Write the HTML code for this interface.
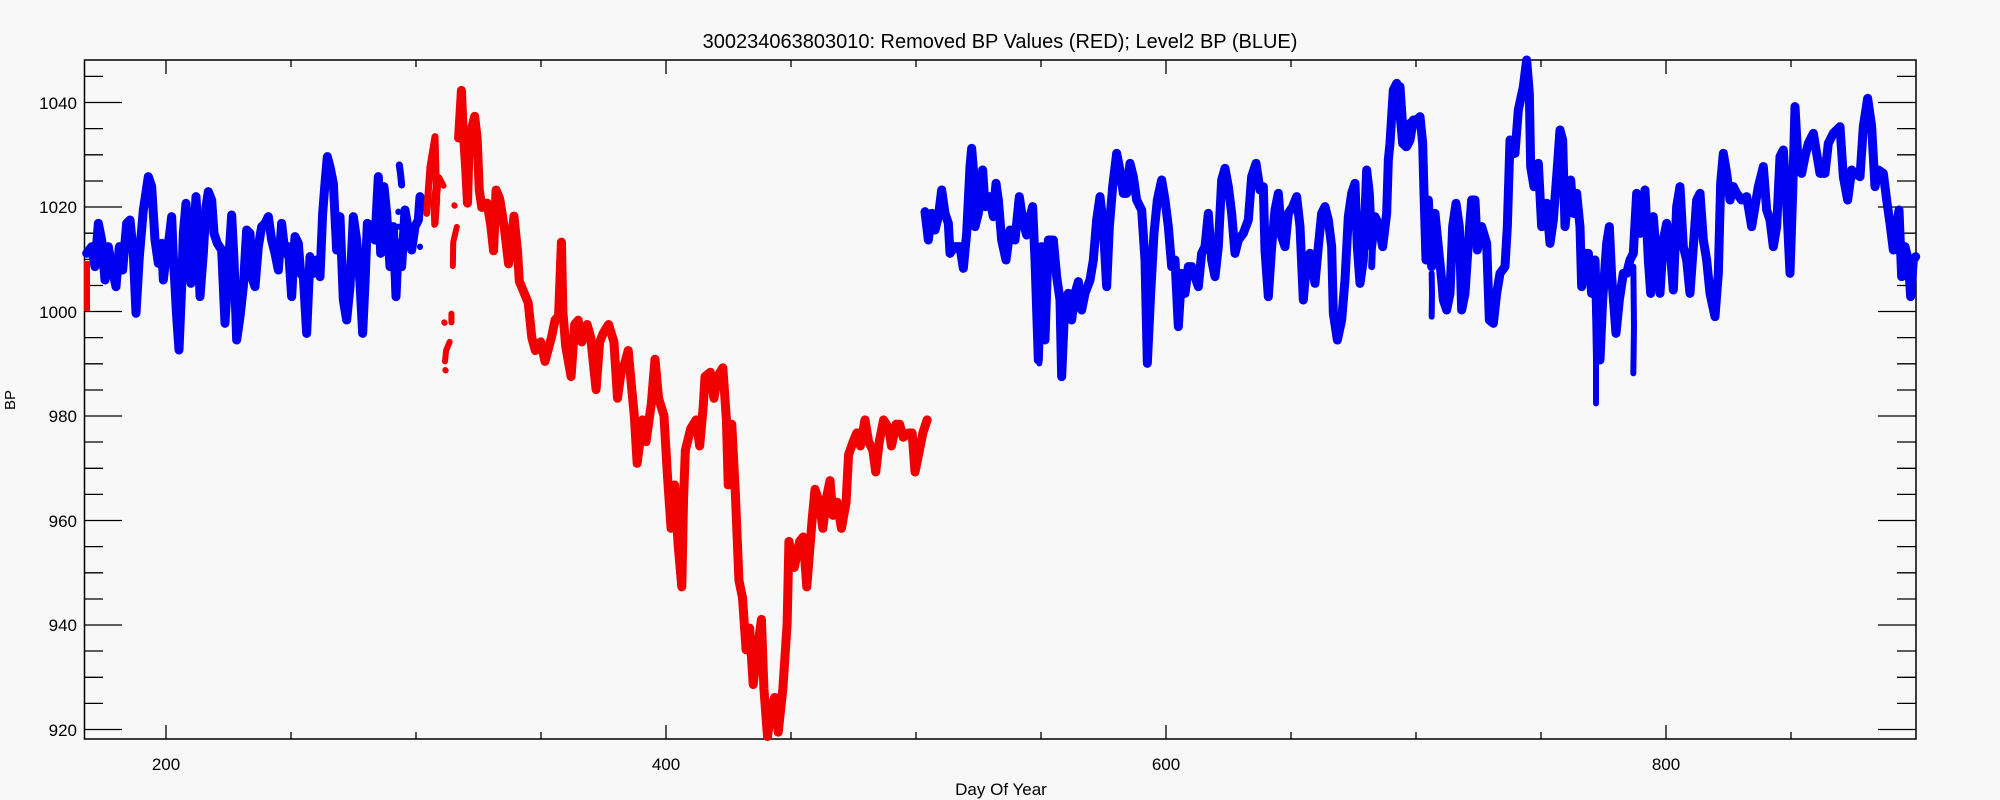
<!DOCTYPE html>
<html><head><meta charset="utf-8"><style>
html,body{margin:0;padding:0;background:#f8f8f8;}
svg{display:block;}
text{font-family:"Liberation Sans",sans-serif;fill:#000;}
</style></head><body>
<svg width="2000" height="800" viewBox="0 0 2000 800" xmlns="http://www.w3.org/2000/svg">
<rect width="2000" height="800" fill="#f8f8f8"/>
<text x="1000" y="48" font-size="20" text-anchor="middle">300234063803010: Removed BP Values (RED); Level2 BP (BLUE)</text>
<text x="1001" y="795" font-size="17" text-anchor="middle">Day Of Year</text>
<text transform="translate(15,400) rotate(-90)" font-size="15" text-anchor="middle">BP</text>
<g font-size="17" text-anchor="end">
<text x="77" y="109">1040</text><text x="77" y="213">1020</text><text x="77" y="318">1000</text>
<text x="77" y="422">980</text><text x="77" y="527">960</text><text x="77" y="631">940</text><text x="77" y="736">920</text>
</g>
<g font-size="17" text-anchor="middle">
<text x="166" y="770">200</text><text x="666" y="770">400</text><text x="1166" y="770">600</text><text x="1666" y="770">800</text>
</g>
<rect x="84.5" y="60" width="1831.5" height="679" stroke="#000" stroke-width="1.5" fill="none"/>
<g stroke="#000" stroke-width="1.3">
<path d="M84,102.5h38M1916,102.5h-38M84,207h38M1916,207h-38M84,311.5h38M1916,311.5h-38M84,416h38M1916,416h-38M84,520.5h38M1916,520.5h-38M84,625h38M1916,625h-38M84,729.5h38M1916,729.5h-38"/>
<path d="M84,76.4h19M1916,76.4h-19M84,128.6h19M1916,128.6h-19M84,154.8h19M1916,154.8h-19M84,181h19M1916,181h-19M84,233.2h19M1916,233.2h-19M84,259.4h19M1916,259.4h-19M84,285.5h19M1916,285.5h-19M84,337.6h19M1916,337.6h-19M84,363.8h19M1916,363.8h-19M84,390h19M1916,390h-19M84,442h19M1916,442h-19M84,468.3h19M1916,468.3h-19M84,494.4h19M1916,494.4h-19M84,546.6h19M1916,546.6h-19M84,572.8h19M1916,572.8h-19M84,599h19M1916,599h-19M84,651h19M1916,651h-19M84,677.3h19M1916,677.3h-19M84,703.4h19M1916,703.4h-19"/>
<path d="M166,739v-14M166,60v14M666,739v-14M666,60v14M1166,739v-14M1166,60v14M1666,739v-14M1666,60v14"/>
<path d="M291,739v-7M291,60v7M416,739v-7M416,60v7M541,739v-7M541,60v7M791,739v-7M791,60v7M916,739v-7M916,60v7M1041,739v-7M1041,60v7M1291,739v-7M1291,60v7M1416,739v-7M1416,60v7M1541,739v-7M1541,60v7M1791,739v-7M1791,60v7"/>
</g>
<g fill="none" stroke-linejoin="round" stroke-linecap="round">
<g transform="translate(80,100) scale(0.33333)" stroke="#0000f0">
<polyline vector-effect="non-scaling-stroke" stroke-width="9" points="20,460 35,440 45,500 55,370 65,420 75,540 85,440 95,500 108,560 118,440 128,510 140,370 150,360 160,460 168,640 178,470 190,330 205,230 215,260 225,420 235,490 245,430 250,540 258,470 268,410 275,350 280,470 290,650 297,750 305,560 310,400 318,310 325,420 333,550 340,440 348,290 355,420 360,590 370,460 378,320 385,275 395,300 402,400 412,430 425,450 435,670 445,500 455,345 462,480 470,720 480,650 490,560 500,390 510,400 518,540 525,560 535,440 545,380 555,370 565,350 575,420 585,460 595,510 605,370 615,460 625,440 635,590 645,410 655,430 662,520 670,530 680,700 690,470 700,520 710,480 720,530 728,340 735,250 742,170 750,200 760,250 770,450 780,350 790,600 800,660 810,560 820,350 830,420 840,550 848,700 855,550 862,370 875,380 885,420 895,230 902,460 912,260 920,340 930,500 940,380 948,590 955,430 965,500 975,330 985,390 995,450 1005,380 1015,360 1020,290 1025,320"/>
<polyline vector-effect="non-scaling-stroke" stroke-width="7" points="958,195 962,225 965,255"/>
<polyline vector-effect="non-scaling-stroke" stroke-width="6" points="955,335 955,336"/>
<polyline vector-effect="non-scaling-stroke" stroke-width="6" points="955,380 962,381"/>
<polyline vector-effect="non-scaling-stroke" stroke-width="6" points="955,440 955,441"/>
<polyline vector-effect="non-scaling-stroke" stroke-width="6" points="1020,440 1020,441"/>
</g>
<rect x="84" y="261" width="6" height="50" fill="#f00000" stroke="none"/>
<g transform="translate(380,60) scale(0.35714,0.43365)" stroke="#f00000">
<polyline vector-effect="non-scaling-stroke" stroke-width="9" points="220,180 228,70 232,150 240,250 245,330 250,180 265,130 272,180 278,300 285,340 300,330 310,380 318,440 325,300 335,320 345,370 350,400 360,470 368,420 375,360 385,440 390,510 405,540 415,560 425,640 435,670 450,650 462,695 480,640 490,600 500,590 508,420 512,580 520,660 535,730 545,610 555,600 565,650 580,610 590,640 605,760 615,650 625,630 640,610 655,650 665,780 675,720 685,700 695,670 705,760 712,820 720,930 735,830 745,880 760,790 770,690 780,780 795,820 805,960 815,1080 825,980 835,1120 845,1215 850,1010 855,900 870,850 885,830 895,890 905,800 910,730 925,720 935,780 945,730 960,710 970,830 975,980 985,840 995,1000 1005,1200 1015,1240 1025,1360 1035,1310 1045,1440 1055,1370 1068,1290 1075,1450 1085,1560 1095,1500 1105,1470 1115,1550 1128,1450 1140,1300 1145,1110 1160,1170 1175,1110 1185,1100 1195,1215 1210,1060 1218,990 1230,1020 1240,1080 1250,1010 1260,970 1268,1050 1280,1020 1292,1080 1305,1020 1312,910 1325,880 1335,860 1345,890 1358,830 1368,880 1380,900 1388,950 1398,880 1410,830 1425,850 1432,890 1445,840 1455,840 1465,870 1480,860 1490,860 1498,950 1508,910 1520,860 1532,830"/>
<polyline vector-effect="non-scaling-stroke" stroke-width="6" points="140,245 155,180 158,280 150,330 152,380 165,270 178,290"/>
<polyline vector-effect="non-scaling-stroke" stroke-width="6" points="130,350 131,352"/>
<polyline vector-effect="non-scaling-stroke" stroke-width="6" points="208,335 209,336"/>
<polyline vector-effect="non-scaling-stroke" stroke-width="6" points="215,385 205,420 204,475"/>
<polyline vector-effect="non-scaling-stroke" stroke-width="6" points="180,605 181,606"/>
<polyline vector-effect="non-scaling-stroke" stroke-width="6" points="200,585 200,605"/>
<polyline vector-effect="non-scaling-stroke" stroke-width="6" points="195,650 185,670 182,695"/>
<polyline vector-effect="non-scaling-stroke" stroke-width="6" points="183,715 184,716"/>
</g>
<g transform="translate(80,100) scale(0.33333)" stroke="#f00000">
<polyline vector-effect="non-scaling-stroke" stroke-width="7" points="1040,340 1050,200 1065,110 1070,300 1065,370"/>
</g>
<g transform="translate(900,60) scale(0.33333)" stroke="#0000f0">
<polyline vector-effect="non-scaling-stroke" stroke-width="9" points="75,455 85,540 95,460 105,510 115,470 125,390 135,460 145,490 150,580 165,560 180,560 190,625 200,520 210,320 215,265 222,350 225,500 235,460 248,330 255,440 268,410 280,470 288,370 295,420 305,540 318,600 330,510 345,540 358,410 368,480 380,525 390,470 398,440 405,600 415,900 425,560 435,840 445,540 460,540 470,650 480,720 485,950 495,720 505,700 515,780 525,700 535,665 545,750 555,700 570,660 580,600 590,480 600,410 610,500 620,680 628,500 638,380 650,280 660,330 670,400 680,400 690,310 700,350 710,420 725,450 735,600 742,910 752,700 762,520 772,420 785,360 795,420 805,500 815,620 825,600 835,800 845,640 855,700 865,620 875,620 885,650 895,680 905,580 915,560 925,460 935,600 945,650 955,560 965,360 975,325 985,380 995,460 1005,580 1015,540 1030,520 1045,480 1055,350 1068,310 1080,390 1090,380 1095,570 1105,710 1115,560 1125,450 1135,400 1145,530 1155,560 1165,460 1178,440 1190,410 1200,500 1210,720 1220,600 1230,580 1245,670 1255,560 1265,460 1275,440 1285,480 1295,560 1300,760 1312,840 1325,780 1335,660 1345,470 1355,400 1365,370 1372,560 1380,670 1390,600 1400,330 1408,400 1415,560 1425,470 1435,490 1448,560 1460,460 1465,300 1470,250 1480,90 1490,70 1500,160 1508,250 1518,260 1530,190 1545,180 1558,175"/>
<polyline vector-effect="non-scaling-stroke" stroke-width="7" points="1412,460 1418,540 1415,620"/>
<polyline vector-effect="non-scaling-stroke" stroke-width="6" points="408,700 412,800 418,910"/>
</g>
<g transform="translate(1400,60) scale(0.33333)" stroke="#0000f0">
<polyline vector-effect="non-scaling-stroke" stroke-width="9" points="0,80 10,230 20,260 30,240 40,180 50,180 60,170 68,250 72,400 78,600 85,420 95,620 105,460 115,560 125,660 130,720 140,750 150,700 158,500 168,430 178,500 185,750 195,700 205,550 215,420 225,420 232,570 245,500 260,550 268,780 280,790 290,700 300,640 315,620 322,500 330,240 345,280 355,150 370,80 380,0 388,100 392,320 402,380 415,310 425,500 440,430 450,550 460,480 470,350 480,210 488,240 495,500 505,400 512,360 520,460 530,400 540,500 545,680 555,580 565,580 575,700 585,600 590,760 600,900 608,720 620,550 628,500 635,650 648,820 658,720 670,640 680,640 690,600 700,580 710,400 720,520 735,390 745,600 752,700 760,470 770,600 780,700 790,540 800,490 810,560 820,690 830,440 840,380 850,560 860,600 870,700 880,560 890,420 900,400 910,540 920,600 930,700 945,770 955,640 962,370 970,280 980,340 990,420 1000,380 1010,400 1025,420 1040,410 1055,500 1065,440 1075,380 1090,320 1100,450 1110,480 1120,560 1130,500 1140,290 1150,270 1160,430 1170,640 1178,400 1185,140 1195,320 1205,340 1215,290 1225,250 1240,220 1250,280 1260,340 1275,340 1285,250 1300,220 1320,200 1330,350 1343,420 1355,330 1365,340 1380,350 1390,200 1403,115 1415,200 1425,380 1435,330 1450,340 1460,420 1470,490 1480,570 1490,500 1497,450 1505,650 1515,560 1525,600 1532,710 1540,600 1547,590"/>
<polyline vector-effect="non-scaling-stroke" stroke-width="6" points="585,740 588,900 588,1030"/>
<polyline vector-effect="non-scaling-stroke" stroke-width="6" points="700,620 702,800 700,940"/>
<polyline vector-effect="non-scaling-stroke" stroke-width="6" points="1178,300 1180,400 1178,500"/>
<polyline vector-effect="non-scaling-stroke" stroke-width="6" points="390,130 393,220 392,300"/>
<polyline vector-effect="non-scaling-stroke" stroke-width="6" points="95,640 96,700 95,770"/>
</g>
</g>
</svg>
</body></html>
